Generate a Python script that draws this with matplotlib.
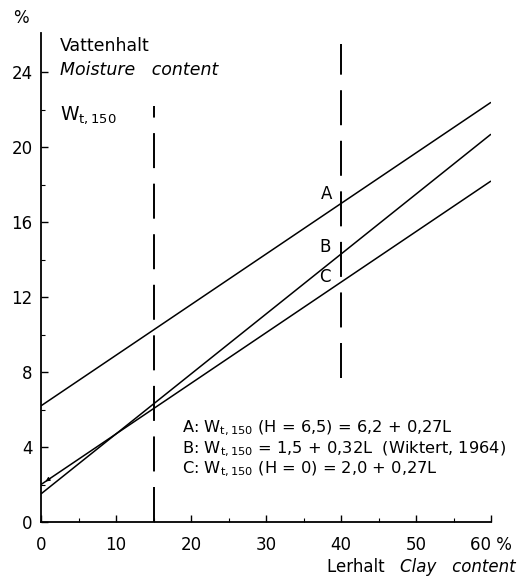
import numpy as np
import matplotlib
matplotlib.use("Agg")
import matplotlib.pyplot as plt

# Clay content range (%)
clay = [0, 60]

# Regression lines: W = intercept + slope * L
line_names = ["A", "B", "C"]
intercepts = [6.2, 1.5, 2.0]
slopes = [0.27, 0.32, 0.27]

# Reference clay contents marked by dashed verticals, with their vertical extent
ref_clay = [15, 40]
ref_bottom = [0, 7.7]
ref_top = [22.2, 25.5]

x_ticks = [0, 10, 20, 30, 40, 50, 60]
x_labels = ["0", "10", "20", "30", "40", "50", "60 %"]
y_ticks = [0, 4, 8, 12, 16, 20, 24]

plt.rcParams["font.family"] = ["DejaVu Sans"]

FS = 12

fig = plt.figure(figsize=(5.19, 5.79), dpi=100)
ax = fig.add_axes([41 / 519, 57 / 579, 450 / 519, 489 / 579])
ax.set_xlim(0, 60)
ax.set_ylim(0, 26.1)

for sp in ["top", "right"]:
    ax.spines[sp].set_visible(False)
for sp in ["left", "bottom"]:
    ax.spines[sp].set_linewidth(1.3)

ax.set_xticks(x_ticks)
ax.set_xticklabels(x_labels)
ax.set_yticks(y_ticks)
ax.set_xticks(np.arange(5, 60, 10), minor=True)
ax.set_yticks(np.arange(2, 26, 4), minor=True)
ax.tick_params(axis="x", which="major", direction="in", length=5, width=1,
               labelsize=FS, pad=10)
ax.tick_params(axis="y", which="major", direction="in", length=5, width=1,
               labelsize=FS, pad=6)
ax.tick_params(axis="both", which="minor", direction="in", length=3, width=0.8)

xs = np.array(clay, dtype=float)
for name, a, b in zip(line_names, intercepts, slopes):
    ax.plot(xs, a + b * xs, color="black", lw=1.1, solid_capstyle="butt")

# small arrowhead at the start of line C
ax.annotate("", xy=(0.3, intercepts[2] + slopes[2] * 0.3),
            xytext=(1.5, intercepts[2] + slopes[2] * 1.5),
            arrowprops=dict(arrowstyle="-|>", color="black", lw=0.8,
                            mutation_scale=6))

for xr, y0, y1 in zip(ref_clay, ref_bottom, ref_top):
    ax.plot([xr, xr], [y0, y1], color="black", lw=1.4,
            linestyle=(0, (18, 8)))

# curve labels
ax.text(38.1, 17.5, "A", fontsize=FS, ha="center", va="center")
ax.text(37.9, 14.7, "B", fontsize=FS, ha="center", va="center")
ax.text(37.9, 13.1, "C", fontsize=FS, ha="center", va="center")

# equations
eq_x = 18.8
eq_fs = 11.7
ax.text(eq_x, 5.0, r"A: W$_{\mathregular{t,150}}$ (H = 6,5) = 6,2 + 0,27L",
        fontsize=eq_fs, va="center")
ax.text(eq_x, 3.9, r"B: W$_{\mathregular{t,150}}$ = 1,5 + 0,32L  (Wiktert, 1964)",
        fontsize=eq_fs, va="center")
ax.text(eq_x, 2.8, r"C: W$_{\mathregular{t,150}}$ (H = 0) = 2,0 + 0,27L",
        fontsize=eq_fs, va="center")

# axis titles
fig.text(13 / 519, 1 - 18 / 579, "%", fontsize=FS, va="center")
ax.text(2.55, 25.4, "Vattenhalt", fontsize=12.5, va="center")
ax.text(2.55, 24.1, "Moisture   content", fontsize=12.5, va="center",
        style="italic")
ax.text(2.55, 21.7, r"W$_{\mathregular{t,150}}$", fontsize=13.5, va="center")
fig.text(1 - 3 / 519, 1 - 567 / 579, "Lerhalt   ", fontsize=FS, ha="right",
         va="center")
t = fig.text(1 - 3 / 519, 1 - 567 / 579, "Clay   content", fontsize=FS,
             ha="right", va="center", style="italic")
fig.canvas.draw()
bb = t.get_window_extent()
fig.texts[-2].set_position((bb.x0 / fig.bbox.width, 1 - 567 / 579))

fig.savefig("out.png", dpi=100)
